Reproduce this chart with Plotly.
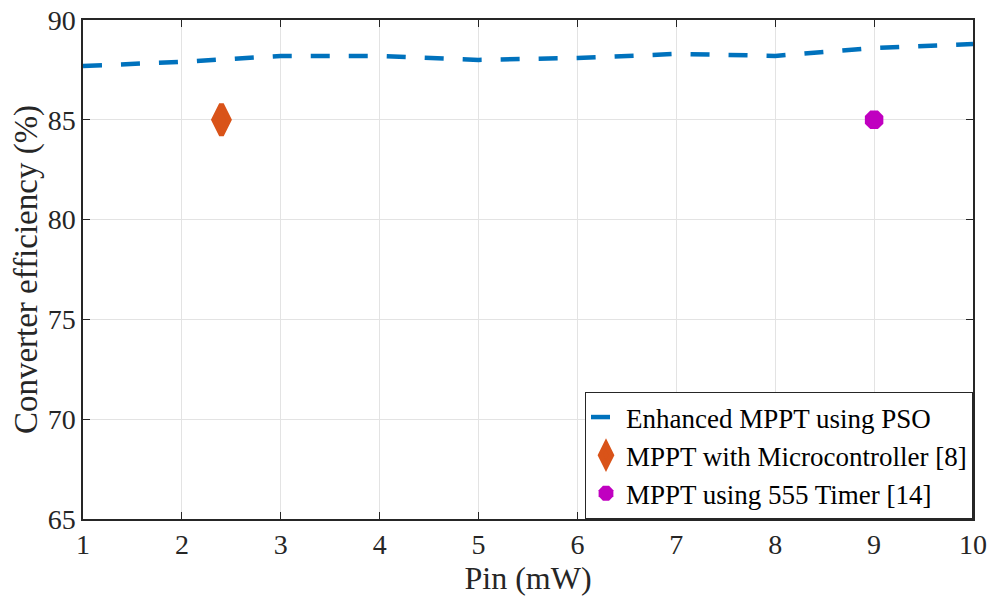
import plotly.graph_objects as go

pin = [1, 2, 3, 4, 5, 6, 7, 8, 9, 10]
eff_pso = [87.7, 87.9, 88.2, 88.2, 88.0, 88.1, 88.3, 88.2, 88.6, 88.8]
micro_x = [2.4]
micro_y = [85]
timer_x = [9]
timer_y = [85]

font = "Liberation Serif"

fig = go.Figure()
fig.add_trace(go.Scatter(x=pin, y=eff_pso, mode="lines", name="Enhanced MPPT using PSO",
                         line=dict(color="#0072BD", width=4.5, dash="19px,19px")))
fig.add_trace(go.Scatter(x=micro_x, y=micro_y, mode="markers", name="MPPT with Microcontroller [8]",
                         marker=dict(symbol="diamond-tall", size=22, color="#D95319",
                                     line=dict(width=5, color="#D95319"))))
fig.add_trace(go.Scatter(x=timer_x, y=timer_y, mode="markers", name="MPPT using 555 Timer [14]",
                         marker=dict(symbol="octagon", size=20, color="#C000C0",
                                     line=dict(width=0))))

axis_common = dict(showline=True, linecolor="#262626", linewidth=1.5, mirror="ticks",
                   ticks="inside", ticklen=7, tickcolor="#262626", automargin=False,
                   ticklabeloverflow="allow",
                   showgrid=True, gridcolor="#E3E3E3", gridwidth=1, zeroline=False,
                   tickfont=dict(family=font, size=28, color="#262626"))

fig.update_xaxes(range=[1, 10], tickvals=list(range(1, 11)),
                 title=dict(text="Pin (mW)", font=dict(family=font, size=32, color="#262626"), standoff=6),
                 **axis_common)
fig.update_yaxes(range=[65, 90], tickvals=[65, 70, 75, 80, 85, 90],
                 title=dict(text="Converter efficiency (%)", font=dict(family=font, size=33, color="#262626"), standoff=0),
                 **axis_common)

fig.update_layout(
    width=993, height=598,
    margin=dict(l=83, r=20, t=20, b=79),
    plot_bgcolor="white", paper_bgcolor="white",
    font=dict(family=font, size=28, color="#000000"),
    legend=dict(x=1, y=0, xanchor="right", yanchor="bottom",
                bgcolor="white", bordercolor="#262626", borderwidth=1,
                font=dict(family=font, size=27, color="#000000"),
                tracegroupgap=0, itemwidth=30),
    showlegend=True,
)

fig.write_html("out.html", config={"displayModeBar": False},
               post_script="document.body.style.margin='0px';document.body.style.overflow='hidden';")
